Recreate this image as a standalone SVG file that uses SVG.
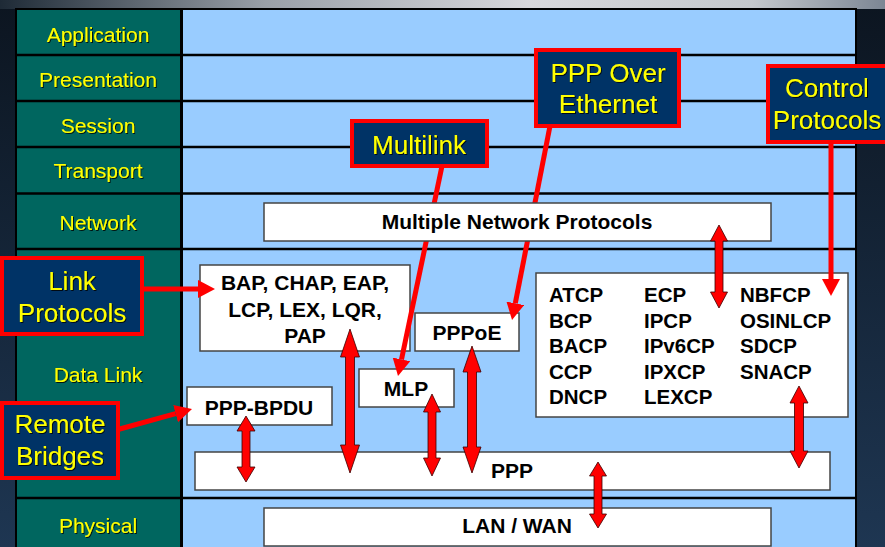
<svg xmlns="http://www.w3.org/2000/svg" width="885" height="547" viewBox="0 0 885 547">
  <defs>
    <linearGradient id="bg" x1="0" y1="0" x2="0" y2="1">
      <stop offset="0" stop-color="#0c1520"/>
      <stop offset="1" stop-color="#1e3652"/>
    </linearGradient>
    <linearGradient id="topband" x1="0" y1="0" x2="1" y2="0">
      <stop offset="0" stop-color="#1e2a36"/>
      <stop offset="0.3" stop-color="#9aa0a8"/>
      <stop offset="0.6" stop-color="#d8d8dc"/>
      <stop offset="0.85" stop-color="#c4c8cc"/>
      <stop offset="1" stop-color="#7c8694"/>
    </linearGradient>
    <filter id="shadow" x="-10%" y="-20%" width="120%" height="140%">
      <feDropShadow dx="1" dy="1" stdDeviation="0.3" flood-color="#000" flood-opacity="0.8"/>
    </filter>
    <marker id="head" markerUnits="userSpaceOnUse" markerWidth="17" markerHeight="18" refX="0" refY="9" orient="auto">
      <path d="M0,0 L17,9 L0,18 z" fill="#ff0000"/>
    </marker>
    <style>
      .layer { font-family: "Liberation Sans", Arial, sans-serif; font-size: 21px; fill: #ffff00; text-anchor: middle; filter: url(#shadow); }
      .box { fill: #ffffff; stroke: #444; stroke-width: 1.5; }
      .boxtext { font-family: "Liberation Sans", Arial, sans-serif; font-size: 21px; font-weight: bold; fill: #000; text-anchor: middle; }
      .proto { font-family: "Liberation Sans", Arial, sans-serif; font-size: 20.5px; font-weight: bold; fill: #000; }
      .callout { fill: #003366; stroke: #ff0000; stroke-width: 4; }
      .callouttext { font-family: "Liberation Sans", Arial, sans-serif; font-size: 26px; fill: #ffff00; text-anchor: middle; filter: url(#shadow); }
      .leader { stroke: #ff0000; stroke-width: 5; fill: none; marker-end: url(#head); }
      .dbl { fill: #ff0000; stroke: #3a0000; stroke-width: 0.8; stroke-linejoin: miter; }
      .rule { stroke: #000; stroke-width: 2.5; }
    </style>
  </defs>

  <!-- backdrop -->
  <rect x="0" y="0" width="885" height="547" fill="url(#bg)"/>
  <rect x="0" y="0" width="885" height="9" fill="url(#topband)"/>

  <!-- layer table -->
  <g id="table">
    <rect x="15" y="8" width="842" height="539" fill="#000"/>
    <rect x="17" y="10" width="163" height="537" fill="#00665f"/>
    <rect x="183" y="10" width="672" height="537" fill="#99ccff"/>
    <line class="rule" x1="15" y1="55" x2="857" y2="55"/>
    <line class="rule" x1="15" y1="101" x2="857" y2="101"/>
    <line class="rule" x1="15" y1="147" x2="857" y2="147"/>
    <line class="rule" x1="15" y1="193.5" x2="857" y2="193.5"/>
    <line class="rule" x1="15" y1="249" x2="857" y2="249"/>
    <line class="rule" x1="15" y1="498" x2="857" y2="498"/>
    <text class="layer" x="98" y="42">Application</text>
    <text class="layer" x="98" y="87">Presentation</text>
    <text class="layer" x="98" y="133">Session</text>
    <text class="layer" x="98" y="178">Transport</text>
    <text class="layer" x="98" y="230">Network</text>
    <text class="layer" x="98" y="382">Data Link</text>
    <text class="layer" x="98" y="533">Physical</text>
  </g>

  <!-- protocol boxes -->
  <g id="bap">
    <rect class="box" x="200" y="265" width="210" height="86"/>
    <text class="boxtext" x="305" y="290">BAP, CHAP, EAP,</text>
    <text class="boxtext" x="305" y="317">LCP, LEX, LQR,</text>
    <text class="boxtext" x="305" y="343">PAP</text>
  </g>
  <g id="pppoe">
    <rect class="box" x="415" y="313" width="104" height="38"/>
    <text class="boxtext" x="467" y="340">PPPoE</text>
  </g>
  <g id="mlp">
    <rect class="box" x="359" y="369" width="95" height="38"/>
    <text class="boxtext" x="406" y="396">MLP</text>
  </g>
  <g id="ppp-bpdu">
    <rect class="box" x="187" y="387" width="145" height="38"/>
    <text class="boxtext" x="259" y="415">PPP-BPDU</text>
  </g>
  <g id="ppp">
    <rect class="box" x="195" y="452" width="635" height="38"/>
    <text class="boxtext" x="512" y="478">PPP</text>
  </g>
  <g id="lan-wan">
    <rect class="box" x="264" y="508" width="507" height="38"/>
    <text class="boxtext" x="517" y="533">LAN / WAN</text>
  </g>
  <g id="control">
    <rect class="box" x="536" y="273" width="312" height="144"/>
    <text class="proto" x="549" y="302">ATCP</text>
    <text class="proto" x="549" y="328">BCP</text>
    <text class="proto" x="549" y="353">BACP</text>
    <text class="proto" x="549" y="379">CCP</text>
    <text class="proto" x="549" y="404">DNCP</text>
    <text class="proto" x="644" y="302">ECP</text>
    <text class="proto" x="644" y="328">IPCP</text>
    <text class="proto" x="644" y="353">IPv6CP</text>
    <text class="proto" x="644" y="379">IPXCP</text>
    <text class="proto" x="644" y="404">LEXCP</text>
    <text class="proto" x="740" y="302">NBFCP</text>
    <text class="proto" x="740" y="328">OSINLCP</text>
    <text class="proto" x="740" y="353">SDCP</text>
    <text class="proto" x="740" y="379">SNACP</text>
  </g>

  <!-- callout leader lines -->
  <g id="leaders">
    <line class="leader" x1="142" y1="289" x2="198" y2="289"/>
    <line class="leader" x1="118" y1="429.5" x2="175.6" y2="413.6"/>
    <line class="leader" x1="442" y1="166" x2="401.5" y2="359.4"/>
    <line class="leader" x1="550" y1="126" x2="515.3" y2="303.3"/>
    <line class="leader" x1="831" y1="142" x2="831" y2="279"/>
  </g>

  <g id="network">
    <rect class="box" x="264" y="203" width="507" height="38"/>
    <text class="boxtext" x="517" y="229">Multiple Network Protocols</text>
  </g>

  <!-- double-headed links between layers -->
  <g id="links">
    <polygon class="dbl" points="246,416 255,431 250,431 250,467 255,467 246,482 237,467 242,467 242,431 237,431"/>
    <polygon class="dbl" points="350,329 359.5,357 354.5,357 354.5,445 359.5,445 350,473 340.5,445 345.5,445 345.5,357 340.5,357"/>
    <polygon class="dbl" points="432,394 440.5,412 436,412 436,458 440.5,458 432,476 423.5,458 428,458 428,412 423.5,412"/>
    <polygon class="dbl" points="472,346 481,372 476.5,372 476.5,447 481,447 472,473 463,447 467.5,447 467.5,372 463,372"/>
    <polygon class="dbl" points="598,462 606.5,476 602,476 602,514 606.5,514 598,528 589.5,514 594,514 594,476 589.5,476"/>
    <polygon class="dbl" points="719,225 727.5,241 723,241 723,292 727.5,292 719,308 710.5,292 715,292 715,241 710.5,241"/>
    <polygon class="dbl" points="799,386 808,403 803.5,403 803.5,451 808,451 799,468 790,451 794.5,451 794.5,403 790,403"/>
  </g>

  <!-- callouts -->
  <g id="callout-link">
    <rect class="callout" x="2" y="258" width="140" height="76"/>
    <text class="callouttext" x="72" y="290">Link</text>
    <text class="callouttext" x="72" y="322">Protocols</text>
  </g>
  <g id="callout-bridges">
    <rect class="callout" x="2" y="403" width="116" height="75"/>
    <text class="callouttext" x="60" y="433">Remote</text>
    <text class="callouttext" x="60" y="465">Bridges</text>
  </g>
  <g id="callout-multilink">
    <rect class="callout" x="352" y="121" width="135" height="45"/>
    <text class="callouttext" x="419" y="154">Multilink</text>
  </g>
  <g id="callout-pppoe">
    <rect class="callout" x="536" y="50" width="143" height="76"/>
    <text class="callouttext" x="608" y="82">PPP Over</text>
    <text class="callouttext" x="608" y="113">Ethernet</text>
  </g>
  <g id="callout-control">
    <rect class="callout" x="768" y="66" width="130" height="76"/>
    <text class="callouttext" x="827" y="97">Control</text>
    <text class="callouttext" x="827" y="129">Protocols</text>
  </g>
</svg>
